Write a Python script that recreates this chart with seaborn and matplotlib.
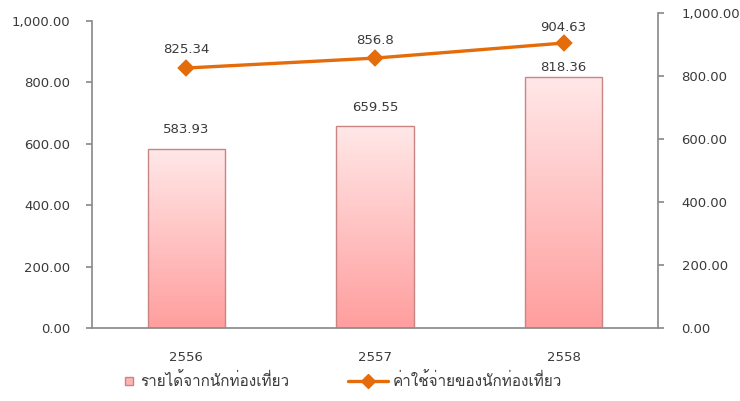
import numpy as np
import pandas as pd
import matplotlib
matplotlib.use("Agg")
import matplotlib.pyplot as plt
import seaborn as sns
from matplotlib import font_manager
from matplotlib.lines import Line2D
from matplotlib.colors import LinearSegmentedColormap

years = ["2556", "2557", "2558"]
income = [583.93, 659.55, 818.36]
expense = [825.34, 856.8, 904.63]
income_labels = ["583.93", "659.55", "818.36"]
expense_labels = ["825.34", "856.8", "904.63"]
legend_labels = ["รายได้จากนักท่องเที่ยว", "ค่าใช้จ่ายของนักท่องเที่ยว"]
yticks = [0, 200, 400, 600, 800, 1000]

# layout tweaks for value labels (points above the mark)
bar_label_offsets = [14, 13, 7]
line_label_offsets = [13, 13, 11]

# find a font with Thai glyphs
thai_font = None
try:
    from fontTools.ttLib import TTFont
    for f in font_manager.fontManager.ttflist:
        try:
            tt = TTFont(f.fname, fontNumber=0, lazy=True)
            cm = tt.getBestCmap()
            if cm and 0x0E23 in cm and 0x0E48 in cm:
                thai_font = f.name
                break
        except Exception:
            pass
except Exception:
    pass

sns.set_theme(style="white")
plt.rcParams['font.family'] = ['DejaVu Sans']

TXT = "#3a3a3a"
SPINE = "#8c8c8c"
ORANGE = "#e46c0a"

fig = plt.figure(figsize=(7.4, 4.01), dpi=100)
ax = fig.add_axes([92 / 740, 1 - 328 / 401, (658 - 92) / 740, (328 - 13) / 401])

df = pd.DataFrame({"year": years, "income": income, "expense": expense})
sns.barplot(data=df, x="year", y="income", ax=ax, width=0.41,
            color="#ffb0b0", edgecolor="#c98484", linewidth=1.0)

cmap = LinearSegmentedColormap.from_list("g", ["#ff9e9e", "#ffe8e8"])
grad = np.linspace(0, 1, 256).reshape(-1, 1)
for p in list(ax.patches):
    x0, y0 = p.get_x(), p.get_y()
    w, h = p.get_width(), p.get_height()
    im = ax.imshow(grad, cmap=cmap, aspect="auto", origin="lower",
                   extent=[x0, x0 + w, y0, y0 + h], zorder=1.5)
    im.set_clip_path(p)
    p.set_facecolor("none")
    p.set_zorder(2)

ax.set_xlim(-0.5, 2.5)
ax.set_ylim(0, 1000 * (328 - 13) / (328 - 21))
ax.spines["left"].set_bounds(0, 1000)

for i, (v, s) in enumerate(zip(income, income_labels)):
    ax.annotate(s, (i, v), xytext=(0, bar_label_offsets[i]), textcoords="offset points",
                ha="center", va="center", fontsize=9.5, color=TXT)

ax2 = ax.twinx()
sns.pointplot(data=df, x="year", y="expense", ax=ax2, color=ORANGE,
              markers="D", linestyles="-", markersize=7, linewidth=2.4)
ax2.set_xlim(-0.5, 2.5)
ax2.set_ylim(0, 1000)
for i, (v, s) in enumerate(zip(expense, expense_labels)):
    ax2.annotate(s, (i, v), xytext=(0, line_label_offsets[i]), textcoords="offset points",
                 ha="center", va="center", fontsize=9.5, color=TXT)

fmt = lambda v: f"{v:,.2f}"
for a in (ax, ax2):
    a.set_yticks(yticks)
    a.set_yticklabels([fmt(v) for v in yticks], fontsize=9.5, color=TXT)
    a.set_xlabel("")
    a.set_ylabel("")
    for sp in a.spines.values():
        sp.set_color(SPINE)
    a.spines["top"].set_visible(False)
ax.spines["right"].set_visible(False)
ax2.spines["left"].set_visible(False)
ax2.spines["bottom"].set_visible(False)
ax.tick_params(axis="y", direction="out", length=4, color=SPINE, pad=11.5, left=True)
ax2.tick_params(axis="y", direction="out", length=4, color=SPINE, pad=13, right=True)

ax.set_xticks([-0.5, 0.5, 1.5, 2.5])
ax.set_xticklabels([])
ax.set_xticks([0, 1, 2], minor=True)
ax.set_xticklabels(years, minor=True, fontsize=9.5, color=TXT)
ax.tick_params(axis="x", which="major", direction="out", length=4, color=SPINE, bottom=True)
ax.tick_params(axis="x", which="minor", length=0, pad=16.5)
ax2.set_xticks([])

fam = [thai_font, 'DejaVu Sans'] if thai_font else ['DejaVu Sans']
prop = {"family": fam, "size": 11}
h1 = Line2D([0], [0], linestyle="none", marker="s", markersize=6,
            markerfacecolor="#ffb4b4", markeredgecolor="#c98484", markeredgewidth=1)
h2 = Line2D([0], [0], color=ORANGE, lw=2.4, marker="D", markersize=7)
leg1 = fig.legend([h1], [legend_labels[0]], loc="center left",
                  bbox_to_anchor=(123 / 740, 1 - 381 / 401), frameon=False,
                  borderpad=0, borderaxespad=0, handlelength=0.8, handletextpad=0.3,
                  prop=prop)
leg2 = fig.legend([h2], [legend_labels[1]], loc="center left",
                  bbox_to_anchor=(348 / 740, 1 - 381 / 401), frameon=False,
                  borderpad=0, borderaxespad=0, handlelength=2.6, handletextpad=0.3,
                  prop=prop)
for leg in (leg1, leg2):
    for t in leg.get_texts():
        t.set_color(TXT)

fig.savefig("out.png", dpi=100)
